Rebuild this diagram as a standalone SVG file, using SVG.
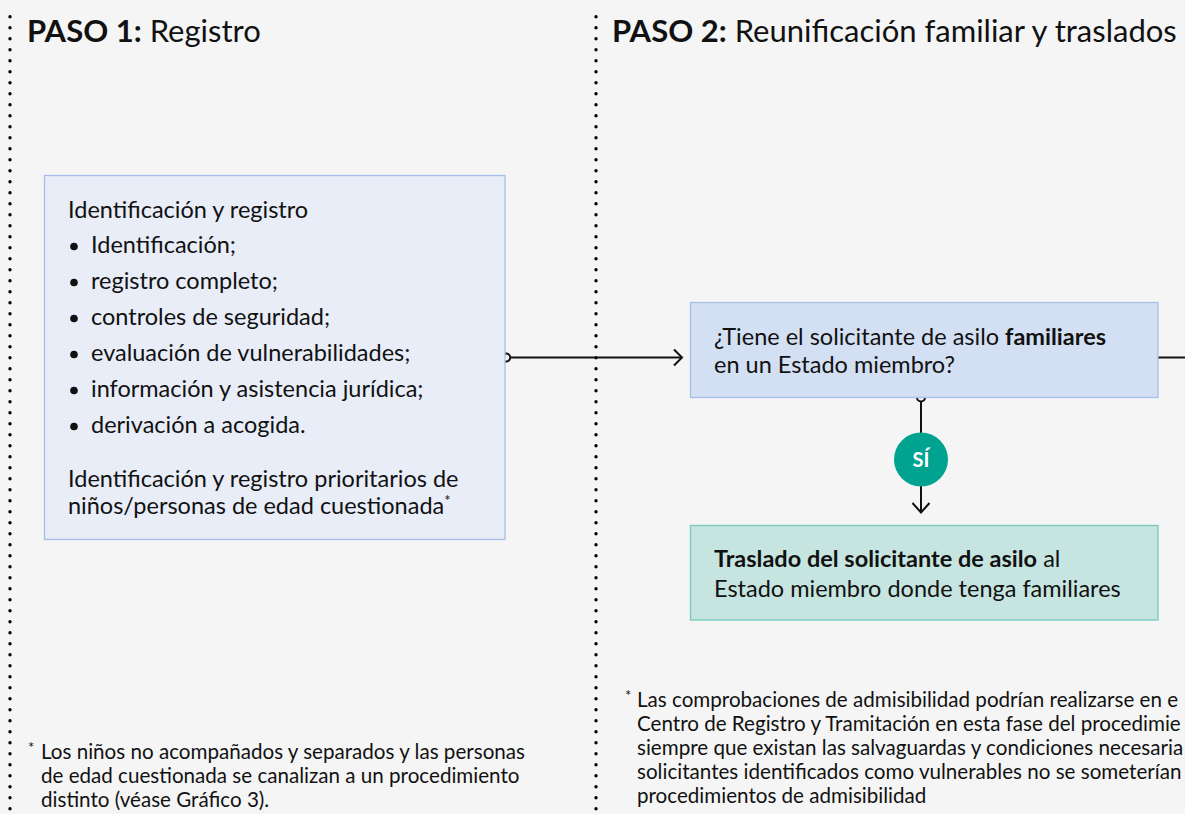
<svg xmlns="http://www.w3.org/2000/svg" width="1185" height="814" viewBox="0 0 1185 814">
<defs>
<style>
text{font-family:Lato,"Noto Sans","Liberation Sans",sans-serif;fill:#111}
.title{font-size:31px}
.b{font-weight:bold}
.t20{font-size:23.5px}
.fn{font-size:20.6px}
.dots{stroke:#000;stroke-width:3.4;stroke-linecap:round;stroke-dasharray:0 11;fill:none}
.conn{stroke:#111;stroke-width:2;fill:none}
.box1{fill:#e8edf8;stroke:#a6bfe8;stroke-width:1.3}
.box2{fill:#d3dff3;stroke:#a6bfe8;stroke-width:1.3}
.box3{fill:#c6e5e0;stroke:#74c9bc;stroke-width:1.3}
</style>
</defs>
<rect x="0" y="0" width="1185" height="814" fill="#f5f5f5"/>
<g id="dividers">
<line class="dots" x1="10" y1="16.7" x2="10" y2="814"/>
<line class="dots" x1="596" y1="16.7" x2="596" y2="814"/>
</g>
<g id="titles">
<text class="title" x="27" y="42"><tspan class="b">PASO 1:</tspan> Registro</text>
<text class="title" x="612" y="42"><tspan class="b">PASO 2:</tspan> Reunificación familiar y traslados</text>
</g>
<g id="connectors">
<line class="conn" x1="511" y1="357.5" x2="682" y2="357.5"/>
<path class="conn" d="M505,353.7 A4,4 0 1 1 505,361.3"/>
<path class="conn" d="M674,349.5 L682,357.5 L674,365.5"/>
<line class="conn" x1="1158" y1="357.5" x2="1185" y2="357.5"/>
<path class="conn" d="M917,397.5 A4,4 0 0 0 925,397.5"/>
<line class="conn" x1="921" y1="401.5" x2="921" y2="433"/>
<line class="conn" x1="921" y1="486" x2="921" y2="512"/>
<path class="conn" d="M912.5,503 L921,512.5 L929.5,503"/>
</g>
<g id="node-registro">
<rect class="box1" x="44.5" y="175.5" width="460.5" height="364"/>
<text class="t20" x="68" y="218">Identificación y registro</text>
<g>
<circle cx="74" cy="246.5" r="3.8" fill="#111"/>
<circle cx="74" cy="282.5" r="3.8" fill="#111"/>
<circle cx="74" cy="318.5" r="3.8" fill="#111"/>
<circle cx="74" cy="354.5" r="3.8" fill="#111"/>
<circle cx="74" cy="390.5" r="3.8" fill="#111"/>
<circle cx="74" cy="426.5" r="3.8" fill="#111"/>
</g>
<text class="t20" x="91" y="253">Identificación;</text>
<text class="t20" x="91" y="289">registro completo;</text>
<text class="t20" x="91" y="325">controles de seguridad;</text>
<text class="t20" x="91" y="361">evaluación de vulnerabilidades;</text>
<text class="t20" x="91" y="397">información y asistencia jurídica;</text>
<text class="t20" x="91" y="433">derivación a acogida.</text>
<text class="t20" x="68" y="487">Identificación y registro prioritarios de</text>
<text class="t20" x="68" y="514">niños/personas de edad cuestionada<tspan font-size="15" dy="-8">*</tspan></text>
</g>
<g id="node-pregunta">
<rect class="box2" x="690.5" y="302.5" width="467.5" height="95"/>
<text class="t20" x="714" y="345">¿Tiene el solicitante de asilo <tspan class="b">familiares</tspan></text>
<text class="t20" x="714" y="373">en un Estado miembro?</text>
</g>
<g id="node-si">
<circle cx="921" cy="459.5" r="27" fill="#00a38f"/>
<text x="921" y="466.5" text-anchor="middle" font-size="20" font-weight="bold" style="fill:#fff">SÍ</text>
</g>
<g id="node-traslado">
<rect class="box3" x="690.5" y="525.5" width="467.5" height="94.5"/>
<text class="t20" x="714" y="567"><tspan class="b">Traslado del solicitante de asilo</tspan> al</text>
<text class="t20" x="714" y="597">Estado miembro donde tenga familiares</text>
</g>
<g id="footnote-1">
<text class="fn" x="28" y="759"><tspan font-size="15" dy="-6">*</tspan><tspan x="41" dy="6">Los niños no acompañados y separados y las personas</tspan></text>
<text class="fn" x="41" y="783">de edad cuestionada se canalizan a un procedimiento</text>
<text class="fn" x="41" y="807">distinto (véase Gráfico 3).</text>
</g>
<g id="footnote-2">
<text class="fn" x="625" y="707"><tspan font-size="15" dy="-6">*</tspan><tspan x="637" dy="6">Las comprobaciones de admisibilidad podrían realizarse en e</tspan></text>
<text class="fn" x="637" y="731">Centro de Registro y Tramitación en esta fase del procedimie</text>
<text class="fn" x="637" y="755">siempre que existan las salvaguardas y condiciones necesaria</text>
<text class="fn" x="637" y="779">solicitantes identificados como vulnerables no se someterían</text>
<text class="fn" x="637" y="803">procedimientos de admisibilidad</text>
</g>
</svg>
